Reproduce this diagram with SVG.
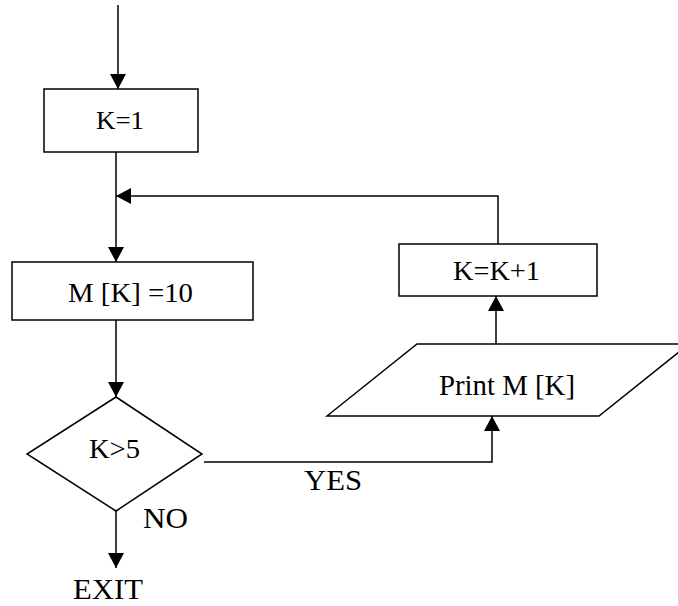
<svg xmlns="http://www.w3.org/2000/svg" width="678" height="606" viewBox="0 0 678 606">
<style>
.s{fill:#fff;stroke:#000;stroke-width:1.5}
.c{fill:none;stroke:#000;stroke-width:1.5}
text{font-family:"Liberation Serif","Times New Roman",serif;fill:#000}
</style>
<defs>
<marker id="ah" markerUnits="userSpaceOnUse" markerWidth="15" markerHeight="16" viewBox="0 0 15 16" refX="15" refY="8" orient="auto">
<path d="M0,0 L15,8 L0,16 z" fill="#000"/>
</marker>
</defs>
<rect width="678" height="606" fill="#fff"/>
<g id="connectors">
<path class="c" d="M118,5 L118,89" marker-end="url(#ah)"/>
<path class="c" d="M116,152 L116,262" marker-end="url(#ah)"/>
<path class="c" d="M116,320 L116,397" marker-end="url(#ah)"/>
<path class="c" d="M116,511 L116,568" marker-end="url(#ah)"/>
<path class="c" d="M204,462 L492,462 L492,416" marker-end="url(#ah)"/>
<path class="c" d="M496,344 L496,296" marker-end="url(#ah)"/>
<path class="c" d="M498,244 L498,196 L116,196" marker-end="url(#ah)"/>
</g>
<g id="k1">
<rect class="s" x="44" y="89" width="154" height="63"/>
<text x="96" y="129" font-size="25" textLength="48" lengthAdjust="spacingAndGlyphs">K=1</text>
</g>
<g id="mk">
<rect class="s" x="12" y="262" width="241" height="58"/>
<text x="68" y="302" font-size="27" textLength="125" lengthAdjust="spacingAndGlyphs">M [K] =10</text>
</g>
<g id="cond">
<polygon class="s" points="116,397 202,454 116,511 27,454"/>
<text x="89" y="458" font-size="27" textLength="51" lengthAdjust="spacingAndGlyphs">K&gt;5</text>
</g>
<g id="print">
<polygon class="s" points="327,416 417,344 689,344 599,416"/>
<text x="439" y="395" font-size="29" textLength="136" lengthAdjust="spacingAndGlyphs">Print M [K]</text>
</g>
<g id="inc">
<rect class="s" x="399" y="244" width="198" height="52"/>
<text x="453" y="280" font-size="27" textLength="87" lengthAdjust="spacingAndGlyphs">K=K+1</text>
</g>
<g id="labels">
<text x="304" y="490" font-size="29" textLength="58" lengthAdjust="spacingAndGlyphs">YES</text>
<text x="143" y="528" font-size="30" textLength="45" lengthAdjust="spacingAndGlyphs">NO</text>
</g>
<g id="exit">
<text x="73" y="599" font-size="30" textLength="70" lengthAdjust="spacingAndGlyphs">EXIT</text>
</g>
</svg>
